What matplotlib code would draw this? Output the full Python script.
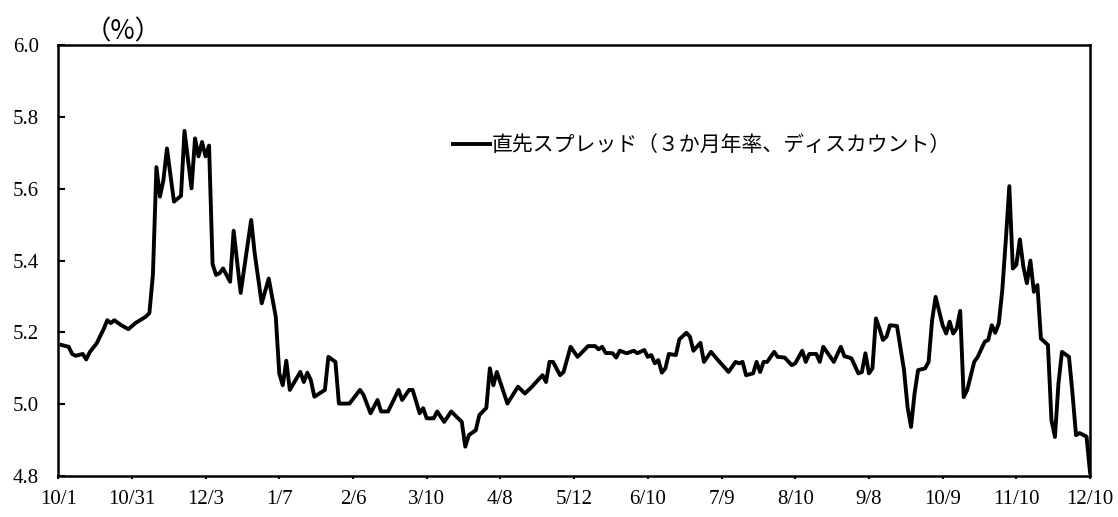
import matplotlib.pyplot as plt

plt.rcParams['font.family'] = ['Noto Sans CJK JP', 'DejaVu Sans']

# business-day offsets from 10/1 and spread values (%)
days = [1, 3, 4, 5, 7, 8, 9, 11, 12, 13, 14, 15, 16, 18, 20, 22, 25, 26, 27, 28,
        29, 30, 31, 33, 35, 36, 38, 39, 40, 41, 42, 43, 44, 45, 46, 47, 49, 50, 52, 55,
        56, 58, 60, 62, 63, 64, 65, 66, 69, 70, 71, 72, 73, 76, 77, 79, 80, 83, 86, 87,
        89, 91, 92, 94, 97, 98, 100, 101, 103, 104, 105, 107, 108, 110, 112, 115, 116, 117, 119, 120,
        122, 123, 124, 125, 128, 131, 133, 135, 138, 139, 140, 141, 143, 144, 146, 148, 151, 153, 154, 155,
        156, 158, 159, 160, 162, 164, 165, 167, 168, 169, 170, 171, 172, 173, 174, 176, 177, 179, 180, 181,
        183, 184, 186, 188, 191, 193, 194, 195, 196, 198, 199, 200, 201, 202, 204, 205, 207, 209, 210, 212,
        213, 214, 216, 217, 218, 221, 223, 224, 226, 228, 229, 230, 231, 232, 233, 234, 235, 236, 237, 239,
        241, 242, 243, 244, 245, 247, 248, 249, 250, 252, 253, 254, 255, 256, 257, 258, 259, 261, 262, 264,
        265, 266, 267, 268, 269, 270, 271, 272, 273, 274, 275, 276, 277, 278, 279, 280, 281, 282, 283, 284,
        285, 286, 288, 289, 290, 291, 292, 293, 294]
spread = [5.165, 5.16, 5.14, 5.135, 5.14, 5.125, 5.145, 5.17, 5.19, 5.21, 5.234, 5.226, 5.234, 5.22, 5.209, 5.226, 5.244, 5.254, 5.36, 5.66,
          5.578, 5.624, 5.712, 5.564, 5.58, 5.761, 5.601, 5.74, 5.69, 5.73, 5.69, 5.72, 5.39, 5.36, 5.365, 5.378, 5.341, 5.483, 5.31, 5.513,
          5.42, 5.281, 5.35, 5.244, 5.086, 5.053, 5.121, 5.04, 5.09, 5.062, 5.088, 5.067, 5.021, 5.04, 5.132, 5.118, 5.002, 5.002, 5.04, 5.026,
          4.975, 5.012, 4.98, 4.98, 5.04, 5.012, 5.04, 5.04, 4.975, 4.989, 4.961, 4.961, 4.98, 4.951, 4.98, 4.951, 4.882, 4.914, 4.928, 4.97,
          4.99, 5.1, 5.053, 5.09, 5.002, 5.049, 5.03, 5.049, 5.081, 5.062, 5.118, 5.118, 5.081, 5.09, 5.16, 5.132, 5.162, 5.162, 5.153, 5.16,
          5.143, 5.142, 5.13, 5.149, 5.142, 5.149, 5.142, 5.151, 5.132, 5.137, 5.114, 5.123, 5.088, 5.10, 5.14, 5.137, 5.181, 5.199, 5.188, 5.149,
          5.171, 5.118, 5.146, 5.123, 5.09, 5.118, 5.114, 5.118, 5.081, 5.086, 5.118, 5.09, 5.118, 5.118, 5.146, 5.132, 5.13, 5.109, 5.114, 5.149,
          5.118, 5.14, 5.14, 5.118, 5.16, 5.118, 5.16, 5.134, 5.128, 5.086, 5.09, 5.142, 5.086, 5.1, 5.239, 5.211, 5.179, 5.188, 5.22, 5.218,
          5.095, 4.993, 4.937, 5.03, 5.095, 5.1, 5.118, 5.234, 5.299, 5.22, 5.197, 5.23, 5.197, 5.211, 5.26, 5.02, 5.04, 5.118, 5.132, 5.174,
          5.179, 5.22, 5.199, 5.225, 5.318, 5.457, 5.607, 5.378, 5.388, 5.459, 5.383, 5.337, 5.4, 5.313, 5.332, 5.183, 5.174, 5.165, 4.956, 4.909,
          5.058, 5.146, 5.132, 5.03, 4.914, 4.92, 4.915, 4.91, 4.81]

tick_days = [0, 21, 42, 63, 84, 105, 126, 147, 168, 189, 210, 231, 252, 273, 294]
tick_labels = ['10/1', '10/31', '12/3', '1/7', '2/6', '3/10', '4/8', '5/12',
               '6/10', '7/9', '8/10', '9/8', '10/9', '11/10', '12/10']
y_ticks = [4.8, 5.0, 5.2, 5.4, 5.6, 5.8, 6.0]

fig = plt.figure(figsize=(11.18, 5.17), dpi=100)
ax = fig.add_axes([0.052, 0.079, 0.923, 0.834])

ax.plot(days, spread, color='black', linewidth=2.8, solid_joinstyle='round',
        label='直先スプレッド（３か月年率、ディスカウント）')

ax.set_xlim(0, 294)
ax.set_ylim(4.8, 6.0)
ax.set_xticks(tick_days)
ax.set_xticklabels(tick_labels, fontfamily='Liberation Serif', fontsize=15)
ax.set_yticks(y_ticks)
ax.set_yticklabels(['%.1f' % v for v in y_ticks], fontfamily='Liberation Serif', fontsize=15)
ax.tick_params(axis='x', direction='out', length=2, width=1.5, pad=8)
ax.tick_params(axis='y', direction='in', length=5, width=1.5, pad=14)
for s in ax.spines.values():
    s.set_linewidth(1.8)

ax.text(0.063, 1.0, '（%）', transform=ax.transAxes, fontsize=19,
        ha='center', va='bottom')

ax.legend(loc='center left', bbox_to_anchor=(0.383, 0.768), frameon=False,
          fontsize=15, handlelength=1.75, handletextpad=0.1,
          borderpad=0, borderaxespad=0)

fig.savefig('out.png', dpi=100)
